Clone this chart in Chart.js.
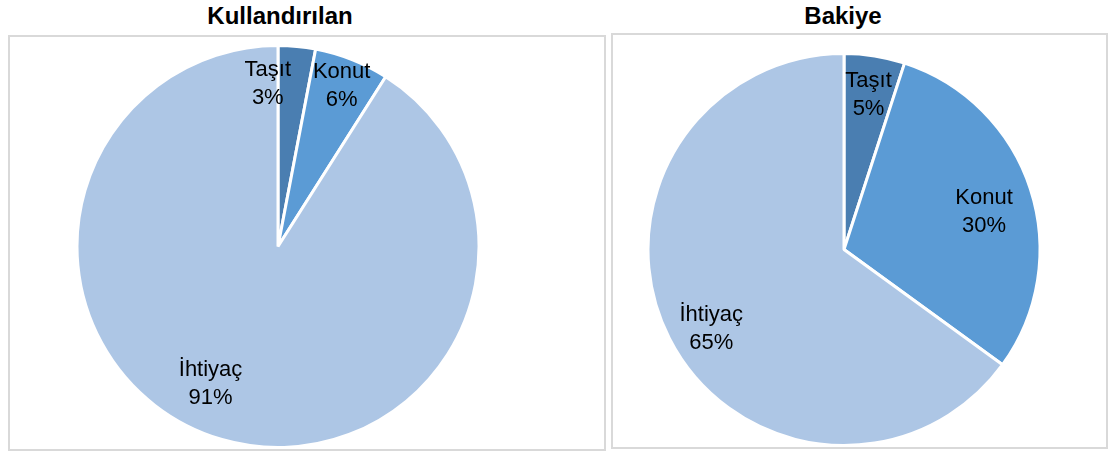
<!DOCTYPE html>
<html lang="tr">
<head>
<meta charset="utf-8">
<script src="https://cdn.jsdelivr.net/npm/chart.js@4"></script>
<style>
  body { margin: 0; background: #fff; width: 1110px; height: 452px; position: relative; overflow: hidden; font-family: "Liberation Sans", Arial, sans-serif; }
  .title { position: absolute; font-weight: bold; font-size: 24px; text-align: center; color: #000; }
  .box { position: absolute; box-sizing: border-box; border: 2px solid #d9d9d9; }
  .box canvas { display: block; }
</style>
</head>
<body>
<div class="title" style="left:180px; top:2px; width:200px;">Kullandırılan</div>
<div class="title" style="left:743px; top:2px; width:200px;">Bakiye</div>
<div class="box" style="left:8px; top:35px; width:598px; height:416px;"><canvas id="leftPie"></canvas></div>
<div class="box" style="left:611px; top:33px; width:497px; height:416px;"><canvas id="rightPie"></canvas></div>
<script>
'use strict';

///////// DATA /////////
const categories = ['Taşıt', 'Konut', 'İhtiyaç'];
const kullandirilanValues = [3, 6, 91];
const bakiyeValues = [5, 30, 65];

const sliceColors = ['#4a7eb1', '#5b9bd5', '#adc6e5'];

// label placement: [angle shift in degrees, fraction of radius]
const leftLabelSpots = [[-9, 0.81], [0, 0.86], [10, 0.76]];
const rightLabelSpots = [[0, 0.80], [3, 0.74], [-4, 0.79]];

//////// LABEL PLUGIN ////////
const pieLabels = {
  id: 'pieLabels',
  afterDatasetsDraw(chart, args, opts) {
    const ctx = chart.ctx;
    const meta = chart.getDatasetMeta(0);
    const data = chart.data.datasets[0].data;
    const total = data.reduce((a, b) => a + b, 0);
    ctx.save();
    ctx.font = '22px "Liberation Sans", Arial, sans-serif';
    ctx.fillStyle = '#000';
    ctx.textAlign = 'center';
    ctx.textBaseline = 'middle';
    meta.data.forEach((arc, i) => {
      const p = arc.getProps(['x', 'y', 'startAngle', 'endAngle', 'outerRadius'], true);
      const spot = opts.spots[i];
      const mid = (p.startAngle + p.endAngle) / 2 + spot[0] * Math.PI / 180;
      const r = p.outerRadius * spot[1];
      const x = p.x + Math.cos(mid) * r;
      const y = p.y + Math.sin(mid) * r;
      const pct = Math.round(data[i] / total * 100) + '%';
      ctx.fillText(chart.data.labels[i], x, y - 14);
      ctx.fillText(pct, x, y + 14);
    });
    ctx.restore();
  }
};

function makePie(id, values, spots, padding, w, h) {
  const canvas = document.getElementById(id);
  canvas.width = w;
  canvas.height = h;
  canvas.style.width = w + 'px';
  canvas.style.height = h + 'px';
  return new Chart(canvas, {
    type: 'pie',
    data: {
      labels: categories,
      datasets: [{
        data: values,
        backgroundColor: sliceColors,
        borderColor: '#ffffff',
        borderWidth: 3
      }]
    },
    options: {
      responsive: false,
      animation: false,
      layout: { padding: padding },
      plugins: {
        legend: { display: false },
        tooltip: { enabled: false },
        pieLabels: { spots: spots }
      }
    },
    plugins: [pieLabels]
  });
}

makePie('leftPie', kullandirilanValues, leftLabelSpots, { left: 65, top: 7, right: 123, bottom: 0 }, 594, 412);
makePie('rightPie', bakiyeValues, rightLabelSpots, { left: 32, top: 17, right: 63, bottom: 0 }, 493, 412);
</script>
</body>
</html>
